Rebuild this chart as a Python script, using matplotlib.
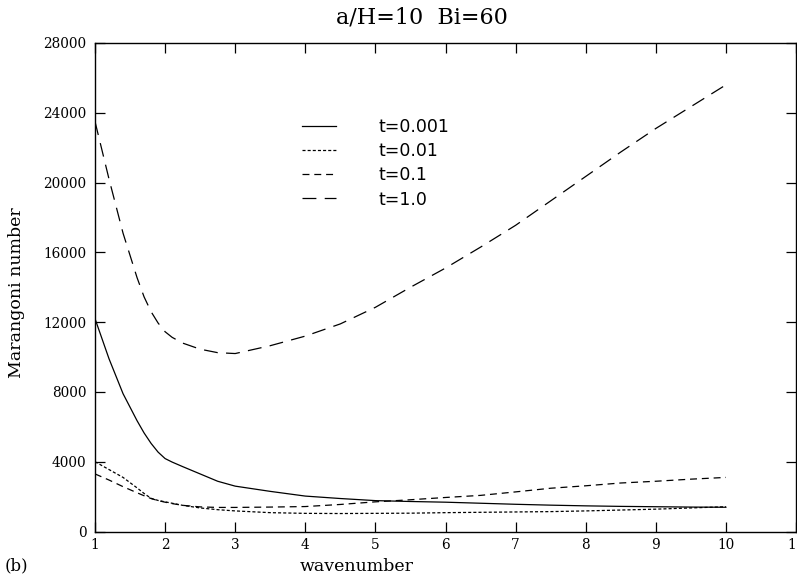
import matplotlib
matplotlib.use("Agg")
import matplotlib.pyplot as plt

# wavenumber grid the curves were read at
k = [1, 1.2, 1.4, 1.6, 1.7, 1.8, 1.9, 2, 2.1, 2.25, 2.5, 2.75, 3, 3.5, 4, 4.5, 5, 5.5,
     6, 6.5, 7, 7.5, 8, 8.5, 9, 9.5, 10]

ma_t0001 = [12200, 9900, 7900, 6350, 5650, 5050, 4550, 4180, 3980, 3720, 3300, 2880, 2600, 2300,
            2030, 1890, 1770, 1720, 1680, 1620, 1560, 1510, 1470, 1440, 1420, 1400, 1390]
ma_t001 = [4000, 3550, 3100, 2500, 2180, 1900, 1780, 1700, 1620, 1500, 1350, 1250, 1180, 1080,
           1040, 1030, 1040, 1050, 1080, 1100, 1120, 1140, 1180, 1230, 1280, 1350, 1420]
ma_t01 = [3300, 2950, 2570, 2220, 2050, 1890, 1770, 1680, 1600, 1500, 1410, 1380, 1380, 1400,
          1430, 1550, 1700, 1820, 1950, 2070, 2270, 2480, 2620, 2780, 2880, 3000, 3100]
ma_t1 = [23500, 20200, 17100, 14550, 13450, 12600, 11950, 11450, 11130, 10800, 10450, 10250, 10200,
         10650, 11200, 11900, 12850, 14000, 15100, 16300, 17550, 18950, 20350, 21750, 23100, 24350, 25600]

labels = ["t=0.001", "t=0.01", "t=0.1", "t=1.0"]
xticks = list(range(1, 12))
yticks = list(range(0, 28001, 4000))

plt.rcParams['lines.scale_dashes'] = False
serif = "DejaVu Serif"

fig = plt.figure(figsize=(7.97, 5.78), dpi=100)
ax = fig.add_axes([95/797, 46.5/578, 701/797, 488.5/578])

lw = 0.9
ax.plot(k, ma_t0001, color="black", lw=lw, ls="-", label=labels[0])
ax.plot(k, ma_t001, color="black", lw=lw, ls=(0, (2.2, 1.5)), label=labels[1])
ax.plot(k, ma_t01, color="black", lw=lw, ls=(0, (5, 3.5)), label=labels[2])
ax.plot(k, ma_t1, color="black", lw=lw, ls=(0, (10, 6)), label=labels[3])

ax.set_xlim(1, 11)
ax.set_ylim(0, 28000)
ax.set_xticks(xticks)
ax.set_yticks(yticks)
ax.tick_params(direction="in", length=7, width=0.9, top=True, right=True,
               labelsize=9.8, pad=6)
ax.tick_params(axis="x", pad=5)
for lab in ax.get_xticklabels() + ax.get_yticklabels():
    lab.set_family(serif)
for s in ax.spines.values():
    s.set_linewidth(1.0)

ax.set_xlabel("wavenumber", fontsize=12.5, family=serif, labelpad=6)
ax.xaxis.set_label_coords(0.373, -0.055)
ax.set_ylabel("Marangoni number", fontsize=12.5, family=serif)
ax.yaxis.set_label_coords(-0.1, 0.49)

fig.text(422/797, 1 - 17/578, "a/H=10  Bi=60", fontsize=16, family=serif,
         ha="center", va="center")
fig.text(5/797, 1 - 566/578, "(b)", fontsize=12, family=serif,
         ha="left", va="center")

ax.legend(loc="upper left", bbox_to_anchor=(0.285, 0.86), frameon=False,
          fontsize=12.5, handlelength=2.0, handletextpad=2.4, labelspacing=0.35,
          borderaxespad=0)

fig.savefig("out.png", dpi=100)
